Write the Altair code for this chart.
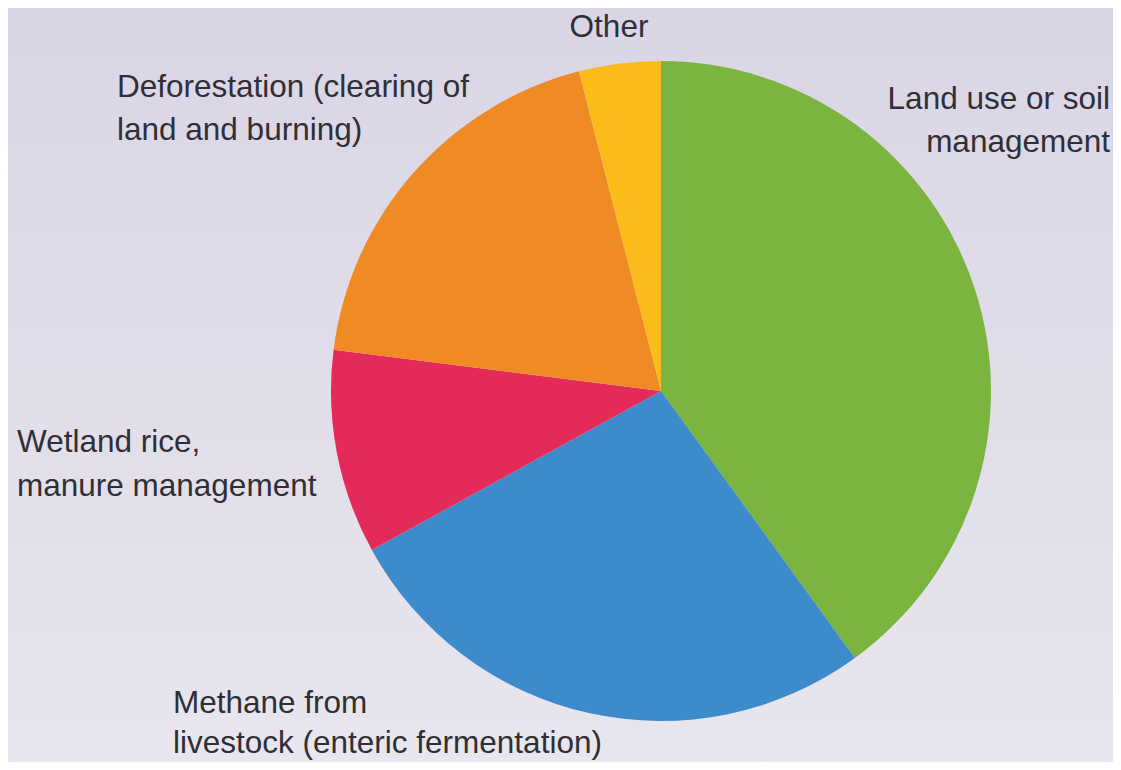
import altair as alt
import pandas as pd

# ---- data ----
categories = [
    "Land use or soil management",
    "Methane from livestock (enteric fermentation)",
    "Wetland rice, manure management",
    "Deforestation (clearing of land and burning)",
    "Other",
]
shares = [40, 27, 10, 19, 4]
slice_colors = ["#7bb53f", "#3e8bcc", "#e42a58", "#f08a25", "#fbbb1a"]

df = pd.DataFrame({"name": categories, "value": shares, "order": list(range(len(categories)))})

W, H = 1105, 754
CX, CY, R = 653, 383, 330
FONT = "Liberation Sans, Arial, sans-serif"
FS = 31.5
TXT = "#2f2f35"

one = alt.InlineData(values=[{"k": 1}])

bg = alt.Chart(one).mark_rect(
    fill=alt.Gradient(
        gradient="linear", x1=0, x2=0, y1=0, y2=1,
        stops=[alt.GradientStop(color="#dad5e5", offset=0),
               alt.GradientStop(color="#e8e6ee", offset=1)],
    )
).encode(x=alt.value(0), x2=alt.value(W), y=alt.value(0), y2=alt.value(H))

pie = alt.Chart(df).mark_arc(outerRadius=R).encode(
    theta=alt.Theta("value:Q", stack=True),
    order=alt.Order("order:Q"),
    color=alt.Color("name:N", scale=alt.Scale(domain=categories, range=slice_colors), legend=None),
    x=alt.value(CX),
    y=alt.value(CY),
)

# label layout: (lines, x, y, align, lineHeight)
label_layout = [
    (["Other"], 601, 29, "center", 43),
    (["Deforestation (clearing of", "land and burning)"], 109, 89, "left", 43),
    (["Land use or soil", "management"], 1102, 101, "right", 43),
    (["Wetland rice,", "manure management"], 9, 444, "left", 44),
    (["Methane from", "livestock (enteric fermentation)"], 165, 705, "left", 40),
]

labels = []
for lines, lx, ly, al, lh in label_layout:
    labels.append(
        alt.Chart(one).mark_text(
            text=lines, align=al, baseline="alphabetic", font=FONT, fontSize=FS,
            color=TXT, lineHeight=lh,
        ).encode(x=alt.value(lx), y=alt.value(ly))
    )

chart = alt.layer(bg, pie, *labels).properties(
    width=W, height=H, autosize=alt.AutoSizeParams(type="none"), padding=0,
    background="#dcd8e6",
).configure_view(stroke=None)

chart.save("out.html", embed_options={"renderer": "svg", "actions": False})
